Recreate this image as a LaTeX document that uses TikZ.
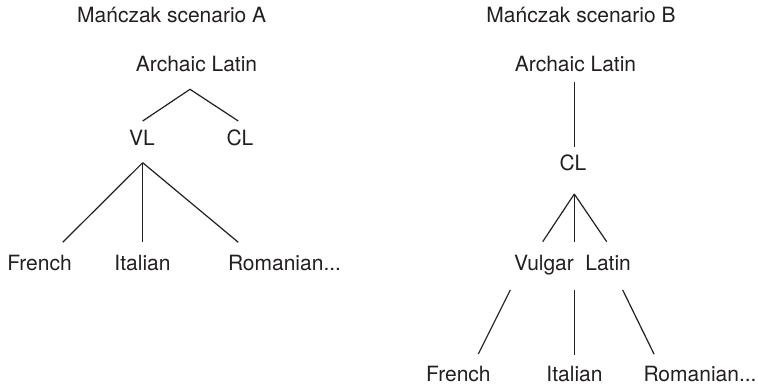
\documentclass[tikz,border=0pt]{standalone}
\usepackage{fontspec}
\setmainfont{TeX Gyre Heros}
\usetikzlibrary{calc}
\definecolor{ink}{RGB}{35,31,32}
\begin{document}
\begin{tikzpicture}[x=1pt,y=-1pt,
  lbl/.style={anchor=base,inner sep=0pt,text=ink,font=\fontsize{21}{25}\selectfont},
  edge/.style={draw=ink,line width=1.2pt}]
\useasboundingbox (0,0) rectangle (758,389);
% titles
\node[lbl] (tA) at (171.7,22) {Mańczak scenario A};
\node[lbl] (tB) at (581,22) {Mańczak scenario B};
% scenario A
\node[lbl] (alA) at (196.5,71.7) {Archaic Latin};
\node[lbl] (vlA) at (142,145) {VL};
\node[lbl] (clA) at (240,145) {CL};
\node[lbl] (frA) at (39.5,270.5) {French};
\node[lbl] (itA) at (142.5,270.5) {Italian};
\node[lbl] (roA) at (284.5,270.5) {Romanian...};
\draw[edge] ($(vlA.base)+(0.7,-24)$) -- ($(alA.base)+(-6.5,17.6)$) -- ($(clA.base)+(-1.7,-24)$);
\draw[edge] ($(vlA.base)+(0.7,17.7)$) -- ($(frA.base)+(23.2,-28.2)$);
\draw[edge] ($(vlA.base)+(0.7,17.7)$) -- ($(itA.base)+(0.2,-28.2)$);
\draw[edge] ($(vlA.base)+(0.7,17.7)$) -- ($(roA.base)+(-46.2,-28.2)$);
% scenario B
\node[lbl] (alB) at (575.5,71.7) {Archaic Latin};
\node[lbl] (clB) at (573,170.7) {CL};
\node[lbl] (vuB) at (572.5,270.5) {Vulgar\hspace{0.55em}Latin};
\node[lbl] (frB) at (458.4,381) {French};
\node[lbl] (itB) at (574.5,381) {Italian};
\node[lbl] (roB) at (700,381) {Romanian...};
\draw[edge] ($(alB.base)+(-1.2,10.6)$) -- ($(clB.base)+(1.3,-24)$);
\draw[edge] ($(clB.base)+(1.3,23.3)$) -- ($(vuB.base)+(-29.8,-28.8)$);
\draw[edge] ($(clB.base)+(1.3,23.3)$) -- ($(vuB.base)+(1.8,-28.8)$);
\draw[edge] ($(clB.base)+(1.3,23.3)$) -- ($(vuB.base)+(34.2,-28.8)$);
\draw[edge] ($(vuB.base)+(-62.2,19.5)$) -- ($(frB.base)+(19.9,-27)$);
\draw[edge] ($(vuB.base)+(1.8,19.5)$) -- ($(itB.base)+(-0.2,-26)$);
\draw[edge] ($(vuB.base)+(50.2,19.5)$) -- ($(roB.base)+(-46,-27)$);
\end{tikzpicture}
\end{document}
